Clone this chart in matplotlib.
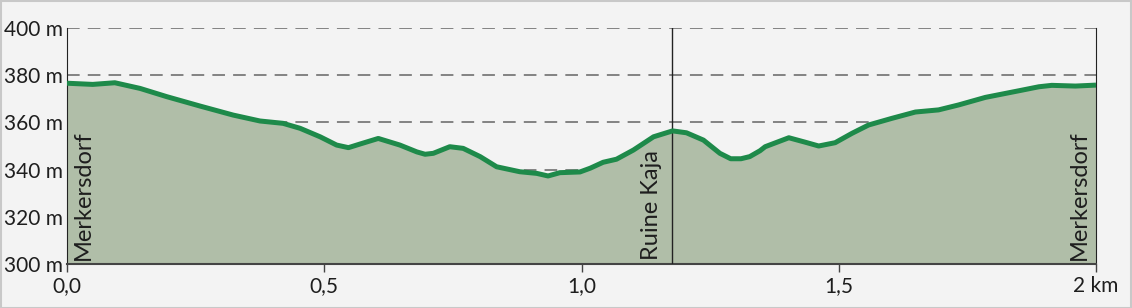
import matplotlib
matplotlib.use("Agg")
import matplotlib.pyplot as plt
from matplotlib.patches import Rectangle

dist_km = [0.0, 0.05, 0.093, 0.142, 0.194, 0.259, 0.323, 0.375, 0.42, 0.453, 0.492,
           0.524, 0.547, 0.569, 0.605, 0.647, 0.680, 0.696, 0.712, 0.744, 0.770, 0.803,
           0.835, 0.880, 0.913, 0.935, 0.958, 0.997, 1.017, 1.042, 1.068, 1.101,
           1.140, 1.177, 1.204, 1.237, 1.269, 1.290, 1.310, 1.327, 1.347, 1.357, 1.403,
           1.435, 1.461, 1.493, 1.526, 1.558, 1.603, 1.649, 1.694, 1.733, 1.785, 1.850,
           1.889, 1.914, 1.960, 2.0]
elev_m = [376.6, 376.1, 376.8, 374.4, 370.9, 366.9, 363.1, 360.6, 359.6, 357.5, 353.9,
          350.4, 349.3, 350.8, 353.2, 350.4, 347.5, 346.5, 346.9, 349.7, 349.0, 345.5,
          341.2, 339.1, 338.4, 337.3, 338.7, 339.0, 340.6, 343.1, 344.4, 348.3,
          353.9, 356.4, 355.6, 352.5, 346.9, 344.6, 344.6, 345.5, 348.0, 349.7, 353.5,
          351.6, 350.0, 351.4, 355.4, 358.9, 361.7, 364.4, 365.3, 367.4, 370.6, 373.4,
          375.1, 375.7, 375.4, 375.8]

y_ticks = [300, 320, 340, 360, 380, 400]
y_labels = ["300 m", "320 m", "340 m", "360 m", "380 m", "400 m"]
x_ticks = [0.0, 0.5, 1.0, 1.5, 2.0]
x_labels = ["0,0", "0,5", "1,0", "1,5", "2 km"]

poi_x = [0.0, 1.1765, 2.0]
poi_names = ["Merkersdorf", "Ruine Kaja", "Merkersdorf"]

plt.rcParams['font.family'] = ['Lato', 'DejaVu Sans']

W, H = 1132, 308
fig = plt.figure(figsize=(W / 100, H / 100), dpi=100)
fig.patch.set_facecolor("#f3f3f3")
fig.patches.append(Rectangle((0.5 / W, 0.5 / H), 1 - 1.5 / W, 1 - 1.5 / H,
                             transform=fig.transFigure, fill=False,
                             edgecolor="#c8c8c8", linewidth=1.5))

left, right, top, bottom = 67, 1096, 28, 264
ax = fig.add_axes([left / W, (H - bottom) / H, (right - left) / W, (bottom - top) / H])
ax.set_facecolor("#f3f3f3")
ax.set_xlim(0, 2)
ax.set_ylim(300, 400)

for yv in y_ticks[1:]:
    ax.axhline(yv, color="#7a7a7a", lw=1.3, ls=(0, (7, 4.5)), zorder=1)

ax.fill_between(dist_km, elev_m, 300, color="#b0bea8", lw=0, zorder=2)
ax.plot(dist_km, elev_m, color="#1e8a4a", lw=3.6, solid_capstyle="butt",
        solid_joinstyle="round", zorder=4)

ax.axvline(poi_x[1], ymin=0, ymax=1, color="#222222", lw=1, zorder=3)

offsets = [16, -21, -17]
for xv, name, off in zip(poi_x, poi_names, offsets):
    ax.annotate(name, xy=(xv, 301.5), xytext=(off, 0), textcoords="offset pixels",
                rotation=90, ha="center", va="bottom", fontsize=17, color="#1e1e1e",
                zorder=5)

ax.set_yticks(y_ticks)
ax.set_yticklabels(y_labels)
ax.set_xticks(x_ticks)
ax.set_xticklabels(x_labels)
ax.tick_params(axis="y", length=0, pad=3, labelsize=15, colors="#1e1e1e")
ax.tick_params(axis="x", length=6, width=1, pad=3, labelsize=15, colors="#1e1e1e",
               color="#444444")

ax.spines["top"].set_visible(False)
ax.spines["left"].set_color("#222222")
ax.spines["right"].set_color("#222222")
ax.spines["bottom"].set_color("#444444")
ax.spines["bottom"].set_linewidth(1.5)

fig.savefig("out.png", dpi=100, facecolor=fig.get_facecolor())
